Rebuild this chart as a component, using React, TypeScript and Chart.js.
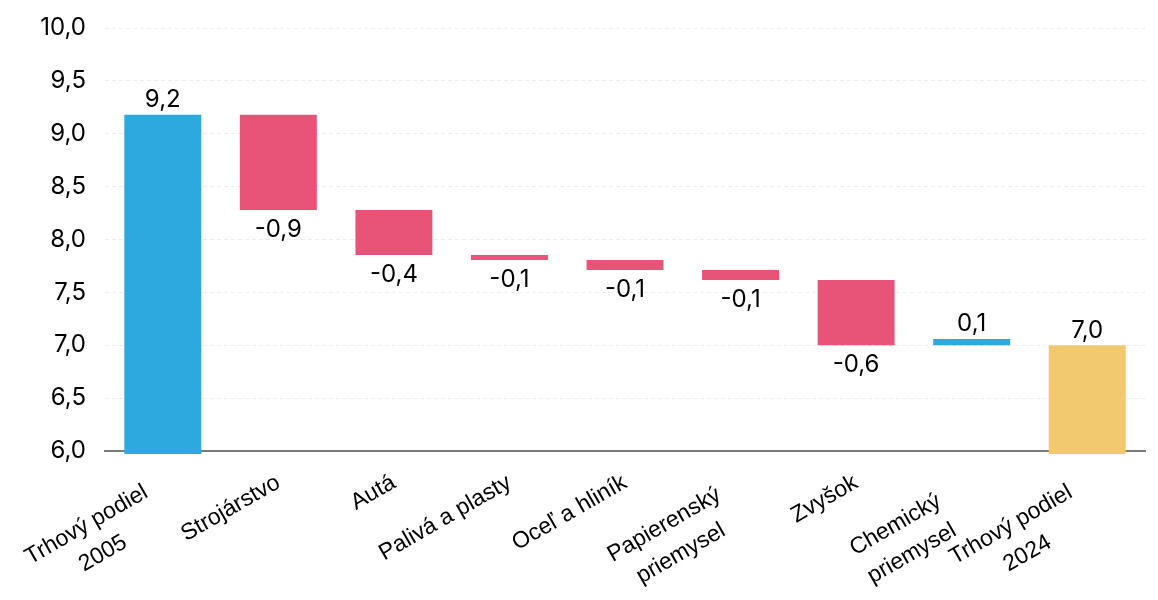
import React, { useEffect, useRef } from "react";
import { Chart, registerables } from "chart.js";

Chart.register(...registerables);

const categories: string[][] = [
  ["Trhový podiel", "2005"],
  ["Strojárstvo"],
  ["Autá"],
  ["Palivá a plasty"],
  ["Oceľ a hliník"],
  ["Papierenský", "priemysel"],
  ["Zvyšok"],
  ["Chemický", "priemysel"],
  ["Trhový podiel", "2024"],
];

// floating bar ranges [start, end]
const barStart = [0, 9.18, 8.28, 7.853, 7.806, 7.712, 7.617, 7.0, 0];
const barEnd = [9.18, 8.28, 7.853, 7.806, 7.712, 7.617, 7.0, 7.06, 7.0];

// values shown on the bars
const shownValues = [9.2, -0.9, -0.4, -0.1, -0.1, -0.1, -0.6, 0.1, 7.0];

const yMin = 6;
const yMax = 10;
const yStep = 0.5;

const BLUE = "#2EA9E0";
const PINK = "#E85478";
const YELLOW = "#F2C96E";

const fmt = (v: number) => v.toFixed(1).replace(".", ",");

const barColor = (i: number) => {
  if (i === shownValues.length - 1) return YELLOW;
  if (i === 0) return BLUE;
  return shownValues[i] < 0 ? PINK : BLUE;
};

const valueLabelPlugin = {
  id: "valueLabels",
  afterDatasetsDraw(chart: any) {
    const ctx = chart.ctx;
    const meta = chart.getDatasetMeta(0);
    ctx.save();
    ctx.font = '24px "Inter"';
    ctx.fillStyle = "#000";
    ctx.textAlign = "center";
    ctx.textBaseline = "alphabetic";
    meta.data.forEach((el: any, i: number) => {
      const { x, y, base } = el.getProps(["x", "y", "base"], true);
      const top = Math.min(y, base);
      const bottom = Math.max(y, base);
      const v = shownValues[i];
      if (v >= 0) {
        ctx.fillText(fmt(v), x, top - 7.5);
      } else {
        ctx.fillText(fmt(v), x, bottom + 27);
      }
    });
    ctx.restore();
  },
};

const xLabelPlugin = {
  id: "xLabels",
  afterDraw(chart: any) {
    const ctx = chart.ctx;
    const xs = chart.scales.x;
    const bottom = chart.chartArea.bottom;
    const angle = (30 * Math.PI) / 180;
    ctx.save();
    ctx.font = '23px "Liberation Sans"';
    ctx.fillStyle = "#000";
    ctx.textBaseline = "middle";
    categories.forEach((lines, i) => {
      const x = xs.getPixelForValue(i);
      const y = bottom + 30;
      ctx.save();
      ctx.translate(x, y);
      ctx.rotate(-angle);
      if (lines.length === 1) {
        ctx.textAlign = "right";
        ctx.fillText(lines[0], 0, 0);
      } else {
        ctx.textAlign = "center";
        lines.forEach((line, j) => ctx.fillText(line, -88, j * 33));
      }
      ctx.restore();
    });
    ctx.restore();
  },
};

export default function App() {
  const ref = useRef<HTMLCanvasElement | null>(null);

  useEffect(() => {
    if (!ref.current) return;
    const chart = new Chart(ref.current, {
      type: "bar",
      data: {
        labels: categories.map((c) => c.join(" ")),
        datasets: [
          {
            data: barStart.map((s, i) => [s, barEnd[i]]) as any,
            backgroundColor: shownValues.map((_, i) => barColor(i)),
            borderWidth: 0,
            barPercentage: 1,
            categoryPercentage: 0.666,
            clip: { left: 0, top: 0, right: 0, bottom: 3 } as any,
          },
        ],
      },
      options: {
        animation: false,
        responsive: true,
        maintainAspectRatio: false,
        layout: { padding: { top: 20, right: 5, bottom: 141, left: 0 } },
        plugins: {
          legend: { display: false },
          tooltip: { enabled: false },
        },
        scales: {
          x: {
            z: 1,
            grid: { display: false, drawTicks: false },
            ticks: { display: false },
            border: { display: true, color: "#7a7a7a", width: 2 },
            afterFit: (s: any) => {
              s.height = 0;
              s.paddingLeft = 0;
              s.paddingRight = 0;
            },
          },
          y: {
            min: yMin,
            max: yMax,
            ticks: {
              stepSize: yStep,
              padding: 19,
              color: "#000",
              font: { family: "Inter", size: 24 },
              callback: (v: any) => fmt(Number(v)),
            },
            grid: { color: "#ececec", lineWidth: 1, drawTicks: false },
            border: { display: false, dash: [4, 3] },
            afterFit: (s: any) => {
              s.width = 97;
              s.paddingTop = 0;
              s.paddingBottom = 0;
            },
          },
        },
      },
      plugins: [valueLabelPlugin, xLabelPlugin],
    });
    return () => chart.destroy();
  }, []);

  return (
    <div style={{ position: "relative", width: "100%", height: 584 }}>
      <canvas ref={ref} />
    </div>
  );
}
